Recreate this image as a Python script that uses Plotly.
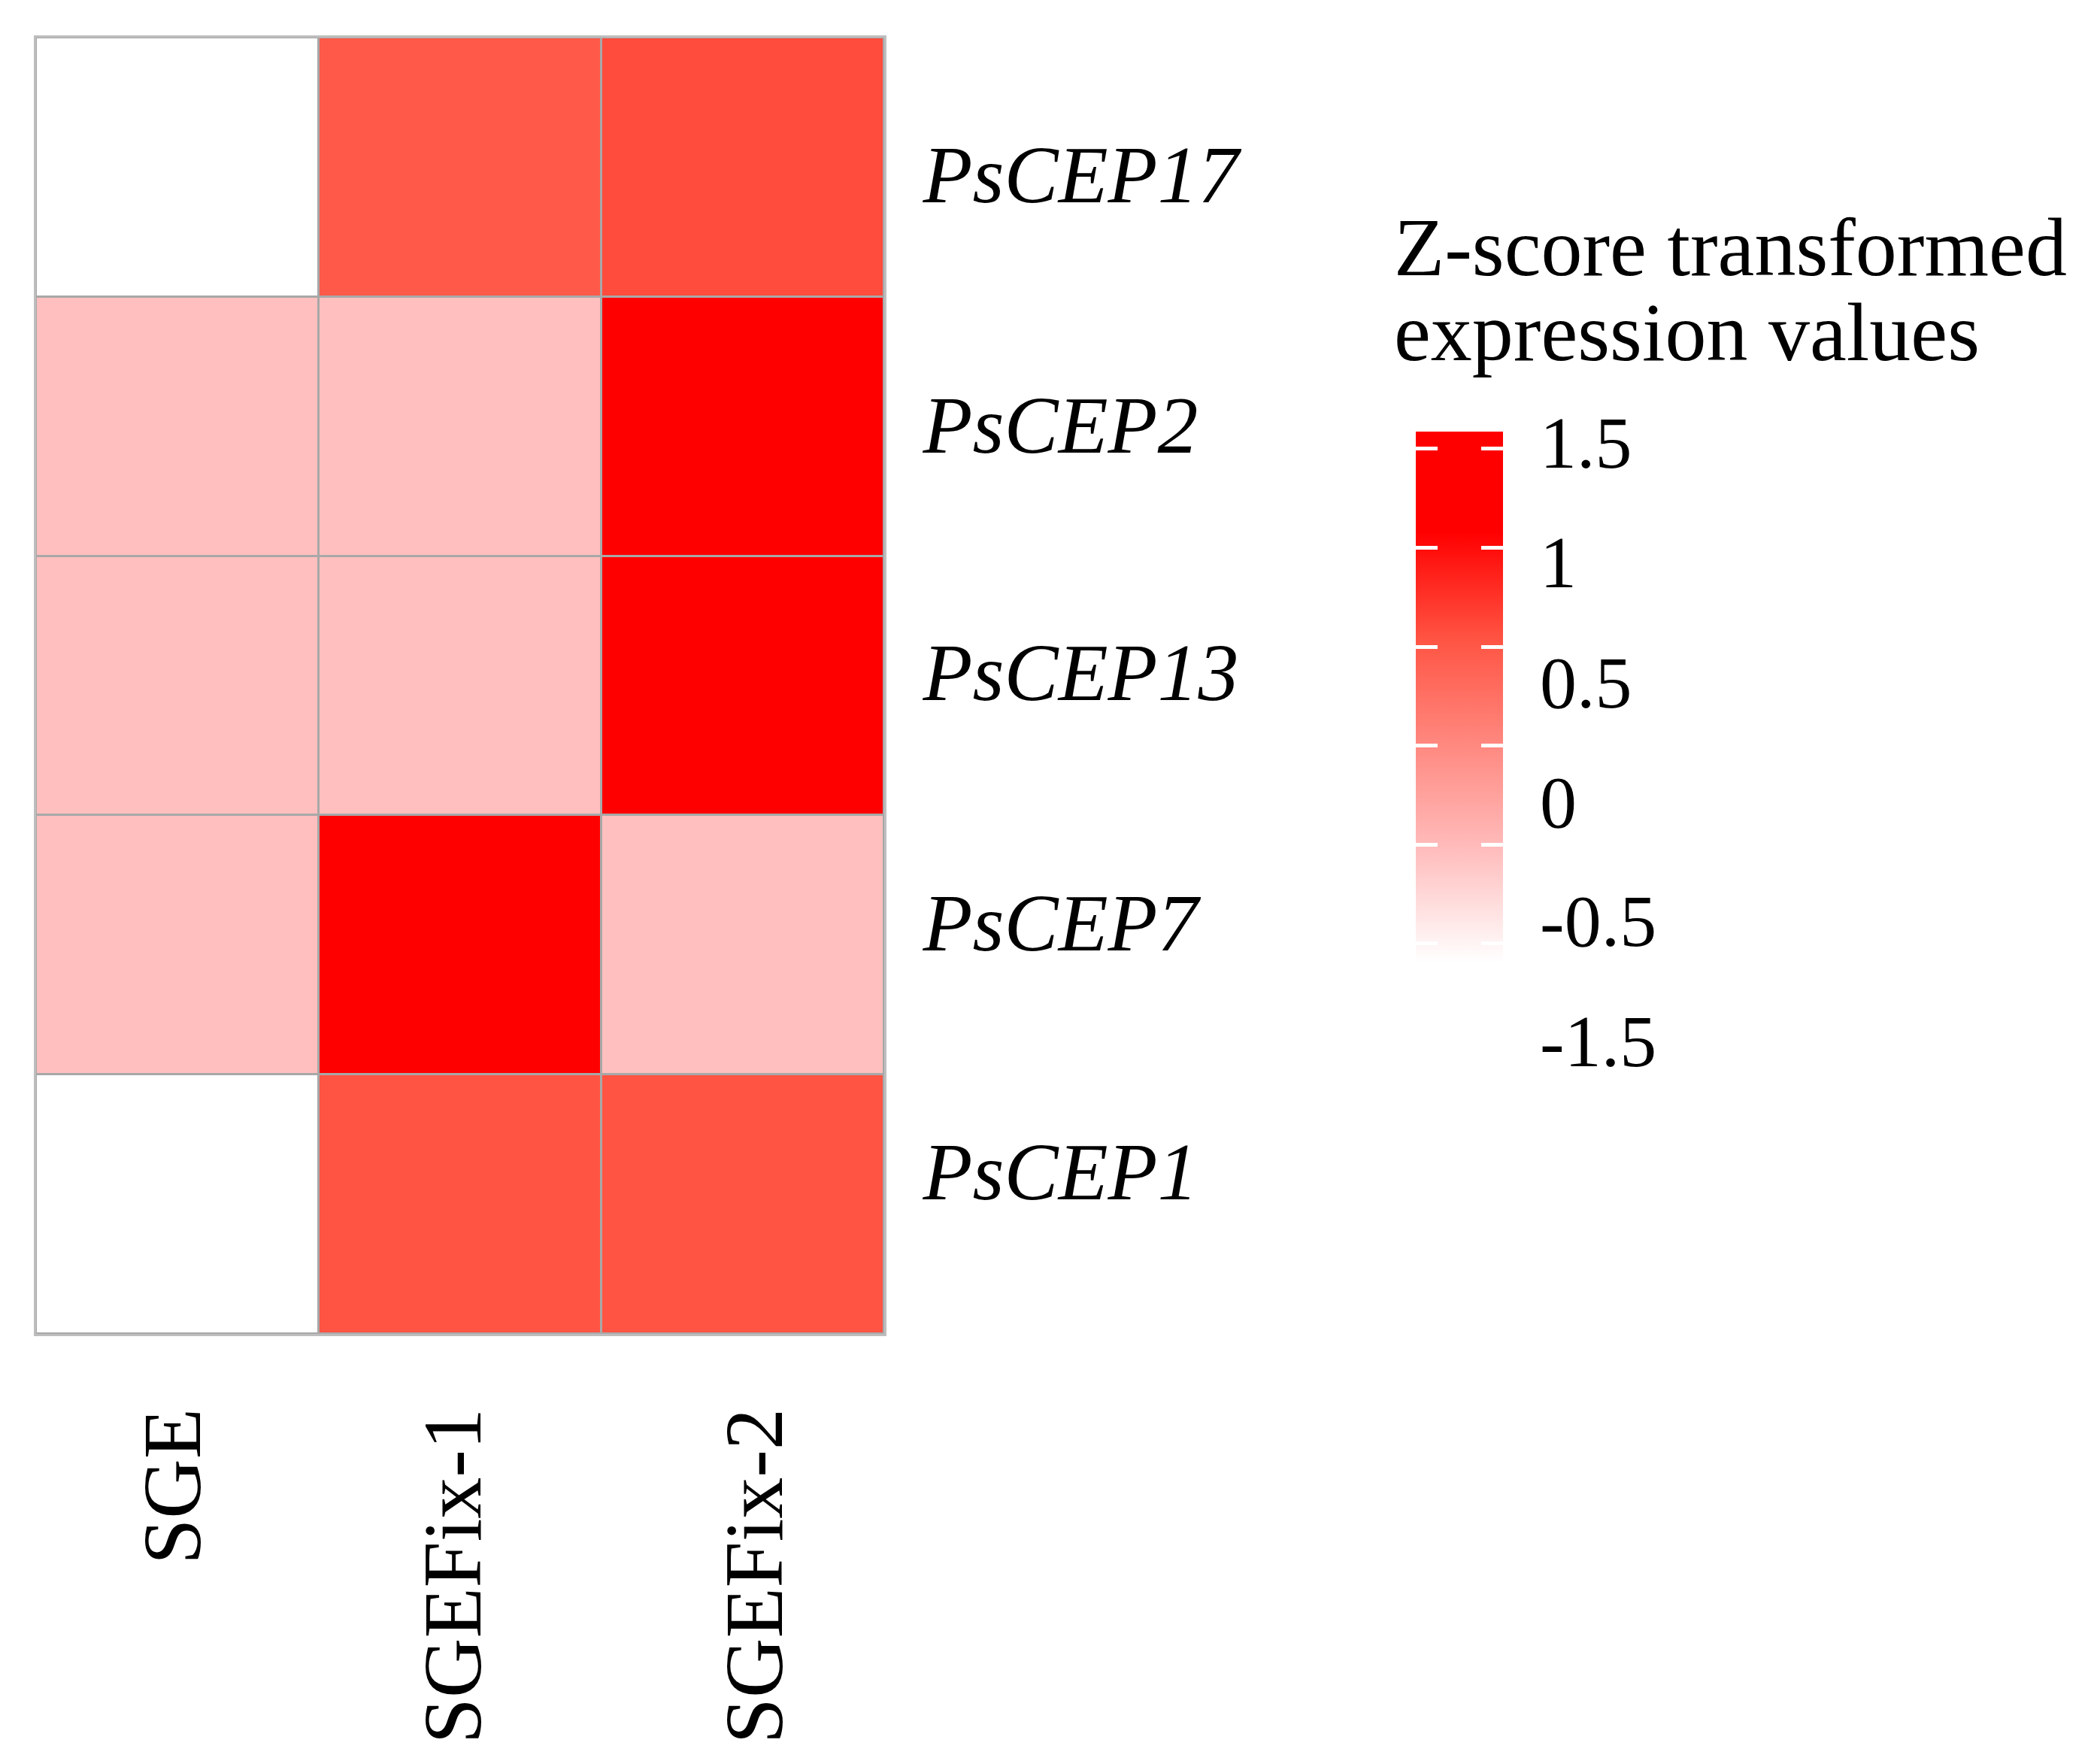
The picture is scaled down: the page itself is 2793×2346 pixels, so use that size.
import plotly.graph_objects as go

# data (row-scaled z-scores)
samples = ["SGE", "SGEFix-1", "SGEFix-2"]
genes = ["PsCEP17", "PsCEP2", "PsCEP13", "PsCEP7", "PsCEP1"]
z_scores = [
    [-1.153, 0.52, 0.63],
    [-0.577, -0.577, 1.155],
    [-0.577, -0.577, 1.155],
    [-0.577, 1.155, -0.577],
    [-1.155, 0.577, 0.577],
]

# label positions in cell units (the original's labels drift a little off the cell centres)
sample_label_pos = [-0.016, 0.976, 2.043]
gene_label_pos = [0.025, 0.99, 1.946, 2.91, 3.87]

# legend ticks (labels and dash marks sit at different heights in the original)
legend_label_vals = [1.638, 0.997, 0.350, -0.291, -0.931, -1.576]
legend_label_text = ["1.5", "1", "0.5", "0", "-0.5", "-1.5"]
legend_dash_vals = [1.605, 1.072, 0.539, 0.006, -0.527, -1.055]
legend_title = ["Z-score transformed", "expression values"]

W, H = 2793, 2346
ML, MT = 40, 42
PH = 1724
MB = H - MT - PH
PW = W - ML

zmin, zmax = -1.781, 1.695
color_stops = [(-1.155, "#FFFFFF"), (-0.577, "#FFBFBF"), (0.577, "#FF5443"), (1.155, "#FF0000")]
colorscale = [[0, "#FFFFFF"]]
for v, c in color_stops:
    colorscale.append([(v - zmin) / (zmax - zmin), c])
colorscale.append([1, "#FF0000"])
clear = [[0, "rgba(0,0,0,0)"], [1, "rgba(0,0,0,0)"]]

FONT = "Liberation Serif"

def px_x(x):
    return (x - ML) / PW

def px_y(y):
    return (H - MB - y) / PH

bar_left = 1875
bar_thick = 116
bar_top = 566
bar_len = 860
dash_len = 29

col_idx = list(range(len(samples)))
row_idx = list(range(len(genes)))

fig = go.Figure()

# main heatmap + labelled legend
fig.add_trace(go.Heatmap(
    z=z_scores, x=col_idx, y=row_idx,
    zmin=zmin, zmax=zmax, colorscale=colorscale,
    xgap=3, ygap=3,
    customdata=[[[g, s] for s in samples] for g in genes],
    hovertemplate="%{customdata[0]} / %{customdata[1]}: %{z:.2f}<extra></extra>",
    colorbar=dict(
        x=px_x(bar_left), xanchor="left", xpad=0, ypad=0,
        y=px_y(bar_top), yanchor="top",
        thickness=bar_thick, len=bar_len, lenmode="pixels",
        outlinewidth=0,
        tickmode="array", tickvals=legend_label_vals, ticktext=legend_label_text,
        ticks="outside", ticklen=30, tickcolor="rgba(0,0,0,0)",
        tickfont=dict(family=FONT, size=98, color="black"),
    ),
))

# white dashes on the left edge of the legend bar
fig.add_trace(go.Heatmap(
    z=z_scores, x=col_idx, y=row_idx, zmin=zmin, zmax=zmax,
    colorscale=clear, hoverinfo="skip",
    colorbar=dict(
        x=px_x(bar_left - 2), xanchor="left", xpad=0, ypad=0,
        y=px_y(bar_top), yanchor="top",
        thickness=2, len=bar_len, lenmode="pixels",
        outlinewidth=0,
        tickmode="array", tickvals=legend_dash_vals,
        ticks="outside", ticklen=dash_len, tickwidth=5, tickcolor="white",
        showticklabels=False,
    ),
))

# white dashes on the right edge of the legend bar
fig.add_trace(go.Heatmap(
    z=z_scores, x=col_idx, y=row_idx, zmin=zmin, zmax=zmax,
    colorscale=clear, hoverinfo="skip",
    colorbar=dict(
        x=px_x(bar_left), xanchor="left", xpad=0, ypad=0,
        y=px_y(bar_top), yanchor="top",
        thickness=bar_thick, len=bar_len, lenmode="pixels",
        outlinewidth=0,
        tickmode="array", tickvals=legend_dash_vals,
        ticks="inside", ticklen=dash_len, tickwidth=5, tickcolor="white",
        showticklabels=False,
    ),
))

# legend title, two lines set closer than plotly's default line height
for line, ypos in zip(legend_title, [321, 434]):
    fig.add_annotation(
        text=line,
        xref="paper", yref="paper", x=px_x(1844), y=px_y(ypos),
        xanchor="left", yanchor="middle", align="left", showarrow=False,
        font=dict(family=FONT, size=110, color="black"),
    )

fig.update_layout(
    width=W, height=H,
    margin=dict(l=ML, r=0, t=MT, b=MB),
    paper_bgcolor="white",
    plot_bgcolor="#A8A8A8",
    font=dict(family=FONT, color="black"),
    xaxis=dict(
        domain=[0, 1128 / PW], range=[-0.5, 2.5],
        tickmode="array", tickvals=sample_label_pos, ticktext=samples,
        tickangle=-90, ticks="", ticklabelstandoff=52,
        tickfont=dict(family=FONT, size=110, color="black"),
        showgrid=False, zeroline=False,
        showline=True, mirror=True, linecolor="#BEBEBE", linewidth=3,
        automargin=False,
    ),
    yaxis=dict(
        range=[4.5, -0.5], side="right",
        tickmode="array", tickvals=gene_label_pos, ticktext=genes,
        ticks="", ticklabelstandoff=27,
        tickfont=dict(family=FONT, size=108, color="black", style="italic"),
        showgrid=False, zeroline=False,
        showline=True, mirror=True, linecolor="#BEBEBE", linewidth=3,
        automargin=False,
    ),
)

fig.write_html("out.html")
